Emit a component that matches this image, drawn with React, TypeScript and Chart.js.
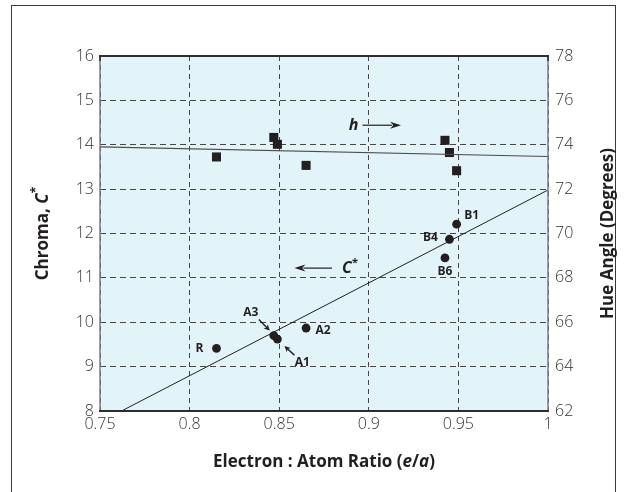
import React, { useEffect, useRef } from "react";
import { Chart, registerables } from "chart.js";

Chart.register(...registerables);

// Samples measured at each electron:atom ratio
const sampleNames = ["R", "A3", "A1", "A2", "B6", "B4", "B1"];
const electronRatio = [0.815, 0.847, 0.849, 0.865, 0.9425, 0.945, 0.949];
const chromaValues = [9.41, 9.7, 9.62, 9.87, 11.45, 11.87, 12.21];
const hueValues = [73.45, 74.33, 74.02, 73.07, 74.2, 73.65, 72.83];

// Least-squares fit lines (end points)
const chromaFitX = [0.762, 1];
const chromaFitY = [8, 12.98];
const hueFitX = [0.75, 1];
const hueFitY = [73.9, 73.47];

// Axis ticks
const xTicks = [0.75, 0.8, 0.85, 0.9, 0.95, 1];
const xTickLabels = ["0.75", "0.8", "0.85", "0.9", "0.95", "1"];
const chromaTicks = [8, 9, 10, 11, 12, 13, 14, 15, 16];
const hueTicks = [62, 64, 66, 68, 70, 72, 74, 76, 78];

const INK = "#231f20";
const FONT = "'Open Sans', 'Noto Sans', sans-serif";

// Label offsets (pixels) from each sample point, plus optional pointer arrows
const labelOffsets: Record<string, { dx: number; dy: number; arrow?: [number, number, number, number] }> = {
  R: { dx: -17, dy: 0 },
  A3: { dx: -23, dy: -23, arrow: [-15, -16, -4, -5] },
  A1: { dx: 25, dy: 23, arrow: [17, 16, 7, 7] },
  A2: { dx: 17, dy: 3 },
  B1: { dx: 15, dy: -9 },
  B4: { dx: -19, dy: -2 },
  B6: { dx: 0, dy: 14 },
};

type Seg = { t: string; italic?: boolean; sup?: boolean };

function drawSegments(ctx: CanvasRenderingContext2D, segs: Seg[], cx: number, cy: number, size: number, weight: string) {
  const fontFor = (s: Seg) => `${s.italic ? "italic " : ""}${weight} ${s.sup ? Math.round(size * 0.7) : size}px ${FONT}`;
  let total = 0;
  const widths = segs.map((s) => {
    ctx.font = fontFor(s);
    const w = ctx.measureText(s.t).width;
    total += w;
    return w;
  });
  let x = cx - total / 2;
  ctx.textBaseline = "middle";
  ctx.textAlign = "left";
  segs.forEach((s, i) => {
    ctx.font = fontFor(s);
    ctx.fillText(s.t, x, s.sup ? cy - size * 0.35 : cy);
    x += widths[i];
  });
}

function arrow(ctx: CanvasRenderingContext2D, x1: number, y1: number, x2: number, y2: number, head: number, halfW: number, lw: number) {
  const ang = Math.atan2(y2 - y1, x2 - x1);
  const bx = x2 - Math.cos(ang) * head;
  const by = y2 - Math.sin(ang) * head;
  ctx.save();
  ctx.strokeStyle = INK;
  ctx.fillStyle = INK;
  ctx.lineWidth = lw;
  ctx.beginPath();
  ctx.moveTo(x1, y1);
  ctx.lineTo(bx + Math.cos(ang) * 2, by + Math.sin(ang) * 2);
  ctx.stroke();
  ctx.beginPath();
  ctx.moveTo(x2, y2);
  ctx.lineTo(bx - Math.sin(ang) * halfW, by + Math.cos(ang) * halfW);
  ctx.lineTo(bx + Math.cos(ang) * head * 0.3, by + Math.sin(ang) * head * 0.3);
  ctx.lineTo(bx + Math.sin(ang) * halfW, by - Math.cos(ang) * halfW);
  ctx.closePath();
  ctx.fill();
  ctx.restore();
}

const plotBackground = {
  id: "plotBackground",
  beforeDraw(chart: any) {
    const { ctx, chartArea: a } = chart;
    ctx.save();
    ctx.fillStyle = "#e2f3fa";
    ctx.fillRect(a.left, a.top, a.right - a.left, a.bottom - a.top);
    ctx.restore();
  },
};

const frameAndText = {
  id: "frameAndText",
  afterDraw(chart: any) {
    const { ctx, chartArea: a, scales } = chart;
    const xs = scales.x;
    const ys = scales.y;
    const hs = scales.y1;
    ctx.save();
    // plot frame
    ctx.lineCap = "butt";
    ctx.strokeStyle = "#7a7f84";
    ctx.lineWidth = 1.5;
    ctx.beginPath();
    ctx.moveTo(a.left, a.top);
    ctx.lineTo(a.left, a.bottom);
    ctx.moveTo(a.right, a.top);
    ctx.lineTo(a.right, a.bottom);
    ctx.stroke();
    ctx.strokeStyle = "#2e2e2e";
    ctx.lineWidth = 2;
    ctx.beginPath();
    ctx.moveTo(a.left - 1, a.top);
    ctx.lineTo(a.right + 1, a.top);
    ctx.moveTo(a.left - 1, a.bottom);
    ctx.lineTo(a.right + 1, a.bottom);
    ctx.stroke();
    // small corner ticks at the top
    ctx.lineWidth = 1.5;
    ctx.beginPath();
    ctx.moveTo(a.left, a.top);
    ctx.lineTo(a.left, a.top + 5);
    ctx.moveTo(a.right, a.top);
    ctx.lineTo(a.right, a.top + 5);
    ctx.stroke();

    ctx.fillStyle = INK;
    // sample labels
    sampleNames.forEach((name, i) => {
      const px = xs.getPixelForValue(electronRatio[i]);
      const py = ys.getPixelForValue(chromaValues[i]);
      const o = labelOffsets[name];
      ctx.font = `bold 12px ${FONT}`;
      ctx.textAlign = "center";
      ctx.textBaseline = "middle";
      ctx.fillText(name, px + o.dx, py + o.dy);
      if (o.arrow) {
        const [sx, sy, ex, ey] = o.arrow;
        arrow(ctx, px + sx, py + sy, px + ex, py + ey, 6, 3, 1.4);
      }
    });

    // series pointers
    const hy = hs.getPixelForValue(74.88);
    drawSegments(ctx, [{ t: "h", italic: true }], xs.getPixelForValue(0.8915), hy, 16, "bold");
    arrow(ctx, xs.getPixelForValue(0.8965), hy, xs.getPixelForValue(0.918), hy, 11, 3.5, 1.2);

    const cy = ys.getPixelForValue(11.22);
    arrow(ctx, xs.getPixelForValue(0.8795), cy, xs.getPixelForValue(0.8585), cy, 11, 3.5, 1.2);
    drawSegments(ctx, [{ t: "C", italic: true }, { t: "*", sup: true }], xs.getPixelForValue(0.8895), cy, 16, "bold");

    // axis titles
    const midY = (a.top + a.bottom) / 2;
    drawSegments(
      ctx,
      [{ t: "Electron : Atom Ratio (" }, { t: "e", italic: true }, { t: "/" }, { t: "a", italic: true }, { t: ")" }],
      (a.left + a.right) / 2,
      a.bottom + 51,
      17,
      "bold"
    );
    ctx.save();
    ctx.translate(43, midY);
    ctx.rotate(-Math.PI / 2);
    drawSegments(ctx, [{ t: "Chroma, " }, { t: "C", italic: true }, { t: "*", sup: true }], 0, 0, 17, "bold");
    ctx.restore();
    ctx.save();
    ctx.translate(608, midY);
    ctx.rotate(-Math.PI / 2);
    drawSegments(ctx, [{ t: "Hue Angle (Degrees)" }], 0, 0, 17, "bold");
    ctx.restore();

    ctx.restore();
  },
};

export default function App() {
  const canvasRef = useRef<HTMLCanvasElement | null>(null);

  useEffect(() => {
    const canvas = canvasRef.current;
    if (!canvas) return;
    const gridColor = "#474747";
    const tickFont = { family: FONT, size: 16, weight: "300" as any };
    const tickColor = "#333333";
    const chart = new Chart(canvas, {
      type: "scatter",
      data: {
        datasets: [
          {
            label: "Chroma fit",
            type: "line",
            data: chromaFitX.map((x, i) => ({ x, y: chromaFitY[i] })),
            yAxisID: "y",
            borderColor: INK,
            borderWidth: 1,
            pointRadius: 0,
            fill: false,
          },
          {
            label: "Hue fit",
            type: "line",
            data: hueFitX.map((x, i) => ({ x, y: hueFitY[i] })),
            yAxisID: "y1",
            borderColor: "#4d4d4d",
            borderWidth: 1.2,
            pointRadius: 0,
            fill: false,
          },
          {
            label: "Chroma",
            data: electronRatio.map((x, i) => ({ x, y: chromaValues[i] })),
            yAxisID: "y",
            pointStyle: "circle",
            pointRadius: 4.4,
            backgroundColor: INK,
            borderWidth: 0,
          },
          {
            label: "Hue angle",
            data: electronRatio.map((x, i) => ({ x, y: hueValues[i] })),
            yAxisID: "y1",
            pointStyle: "rect",
            pointRadius: 6.4,
            backgroundColor: INK,
            borderWidth: 0,
          },
        ],
      },
      options: {
        responsive: false,
        animation: false,
        layout: { padding: { top: 56, left: 0, right: 0, bottom: 0 } },
        plugins: { legend: { display: false }, tooltip: { enabled: false } },
        scales: {
          x: {
            type: "linear",
            min: 0.75,
            max: 1,
            afterBuildTicks: (s: any) => {
              s.ticks = xTicks.map((v) => ({ value: v }));
            },
            afterFit: (s: any) => {
              s.height = 81;
            },
            ticks: {
              padding: 4,
              color: tickColor,
              font: tickFont,
              maxRotation: 0,
              autoSkip: false,
              callback: (_v: any, i: number) => xTickLabels[i],
            },
            grid: { color: gridColor, lineWidth: 1, drawTicks: false },
            border: { display: false, dash: [5, 4] },
          },
          y: {
            type: "linear",
            position: "left",
            min: 8,
            max: 16,
            afterBuildTicks: (s: any) => {
              s.ticks = chromaTicks.map((v) => ({ value: v }));
            },
            afterFit: (s: any) => {
              s.width = 100;
            },
            ticks: {
              padding: 6,
              color: tickColor,
              font: tickFont,
              autoSkip: false,
              callback: (v: any) => String(v),
            },
            grid: { color: gridColor, lineWidth: 1, drawTicks: false },
            border: { display: false, dash: [6, 4] },
          },
          y1: {
            type: "linear",
            position: "right",
            min: 62,
            max: 78,
            afterBuildTicks: (s: any) => {
              s.ticks = hueTicks.map((v) => ({ value: v }));
            },
            afterFit: (s: any) => {
              s.width = 82;
            },
            ticks: {
              padding: 7,
              color: tickColor,
              font: tickFont,
              autoSkip: false,
              callback: (v: any) => String(v),
            },
            grid: { display: false, drawTicks: false },
            border: { display: false },
          },
        },
      },
      plugins: [plotBackground, frameAndText],
    });
    return () => chart.destroy();
  }, []);

  return (
    <div style={{ position: "fixed", left: 0, top: 0, width: 630, height: 492, background: "#fff", overflow: "hidden" }}>
      <div
        style={{
          position: "absolute",
          left: 11,
          top: 5,
          width: 605,
          height: 600,
          border: "1.5px solid #3a3a3a",
          boxSizing: "border-box",
        }}
      />
      <canvas ref={canvasRef} width={630} height={492} style={{ position: "absolute", left: 0, top: 0 }} />
    </div>
  );
}
